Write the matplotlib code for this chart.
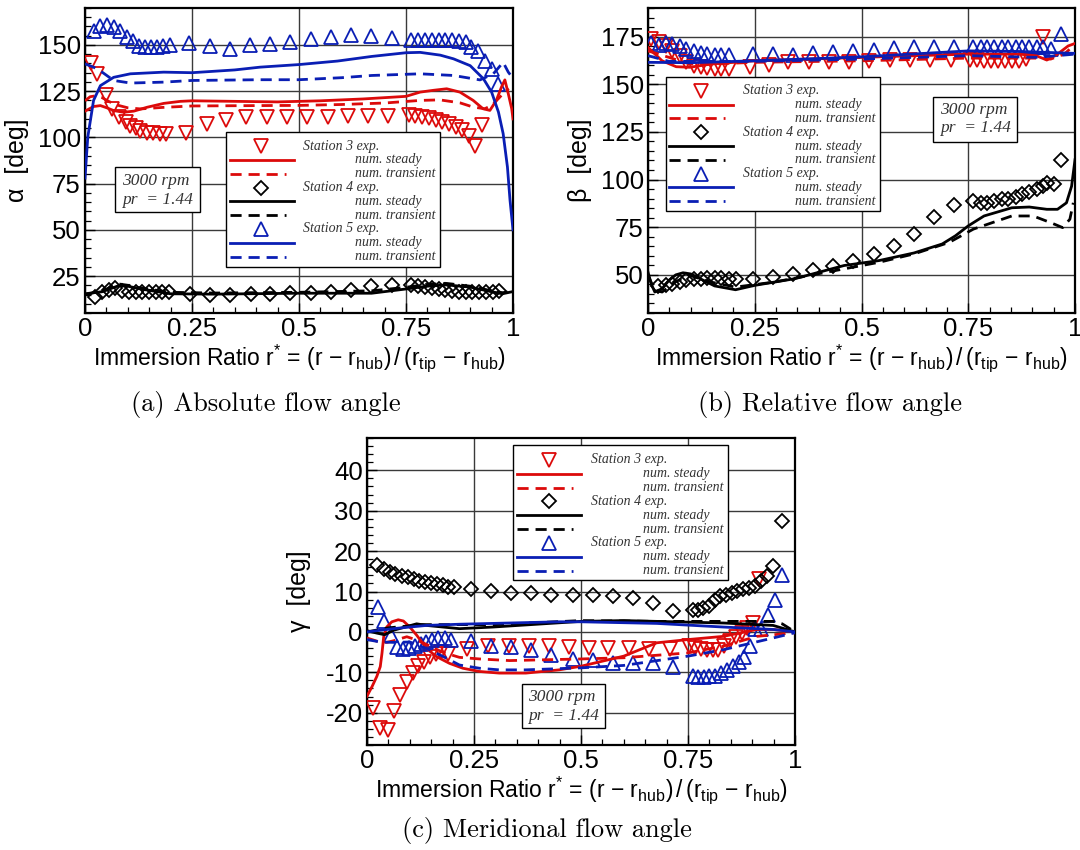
import matplotlib
matplotlib.use("Agg")
import matplotlib.pyplot as plt
from matplotlib.patches import Rectangle
from matplotlib.ticker import MultipleLocator, FixedLocator, FuncFormatter

plt.rcParams['font.family'] = ['Liberation Sans', 'DejaVu Sans']
plt.rcParams['mathtext.fontset'] = 'custom'
plt.rcParams['mathtext.rm'] = 'Liberation Sans'
plt.rcParams['mathtext.it'] = 'Liberation Sans:italic'
plt.rcParams['axes.unicode_minus'] = False

RED = '#dc0a0a'
BLUE = '#0a1eb4'
BLACK = '#000000'

# ---- (a) absolute flow angle ----
a_s3_exp_x = [0.013, 0.028, 0.048, 0.063, 0.079, 0.095, 0.106, 0.118, 0.129, 0.145, 0.160, 0.176, 0.190,
              0.235, 0.284, 0.329, 0.376, 0.425, 0.472, 0.519, 0.567, 0.614, 0.661, 0.709, 0.756,
              0.772, 0.788, 0.803, 0.819, 0.835, 0.851, 0.867, 0.882, 0.898, 0.912, 0.927]
a_s3_exp_y = [140.1, 134.4, 122.7, 115.5, 111.0, 108.3, 106.2, 105.0, 103.6, 102.5, 102.5, 102.0, 102.0,
              102.5, 107.0, 109.5, 111.0, 111.0, 111.1, 111.1, 111.1, 111.5, 111.5, 111.5, 112.0,
              111.5, 110.8, 110.3, 109.4, 108.5, 107.2, 105.8, 104.0, 100.8, 95.2, 106.8]
a_s3_st_x = [0, 0.02, 0.036, 0.051, 0.067, 0.09, 0.114, 0.145, 0.184, 0.223, 0.25, 0.35, 0.45, 0.55, 0.65,
             0.75, 0.783, 0.815, 0.845, 0.876, 0.907, 0.93, 0.946, 0.961, 0.973, 0.981, 0.989, 0.997, 1.0]
a_s3_st_y = [114.2, 116.7, 117.2, 116.0, 114.5, 113.6, 114.2, 116.3, 118.4, 119.5, 119.8, 119.5, 119.2,
             119.8, 120.8, 122.2, 124.5, 125.5, 126.3, 124.5, 120.0, 115.5, 114.6, 120.0, 127.2, 131.1,
             123.6, 115.5, 110.0]
a_s3_tr_x = [0, 0.012, 0.025, 0.04, 0.055, 0.075, 0.1, 0.13, 0.18, 0.25, 0.4, 0.5, 0.6, 0.7, 0.783,
             0.829, 0.876, 0.907, 0.934, 0.95, 0.966, 0.98, 0.99]
a_s3_tr_y = [119.8, 122.0, 122.5, 121.5, 119.5, 117.5, 116.0, 115.4, 116.2, 117.0, 117.2, 117.3, 117.8,
             118.6, 120.0, 120.3, 118.7, 116.4, 115.5, 117.3, 121.0, 124.5, 126.4]
a_s4_exp_x = [0.024, 0.039, 0.055, 0.071, 0.087, 0.102, 0.118, 0.134, 0.15, 0.165, 0.181, 0.197, 0.245,
              0.292, 0.339, 0.387, 0.433, 0.48, 0.527, 0.575, 0.622, 0.669, 0.717, 0.762, 0.778, 0.794,
              0.81, 0.826, 0.842, 0.858, 0.874, 0.89, 0.905, 0.921, 0.937, 0.953, 0.968]
a_s4_exp_y = [13.9, 16.2, 17.7, 18.4, 17.1, 16.2, 16.2, 16.2, 16.6, 16.6, 16.6, 16.2, 15.4, 15.0, 15.0,
              15.4, 15.4, 15.7, 15.7, 16.6, 17.7, 19.5, 20.4, 20.2, 19.5, 18.9, 18.4, 18.0, 17.7, 17.1,
              16.6, 16.2, 16.2, 16.2, 16.2, 16.6, 17.1]
a_s4_st_x = [0, 0.04, 0.079, 0.1, 0.13, 0.2, 0.3, 0.5, 0.67, 0.75, 0.8, 0.845, 0.9, 0.95, 0.975, 1.0]
a_s4_st_y = [15.4, 16.5, 19.8, 19.5, 18.0, 15.4, 15.2, 15.7, 15.7, 18.0, 19.5, 20.2, 19.0, 16.5, 15.4, 16.6]
a_s4_tr_x = [0, 0.04, 0.079, 0.1, 0.13, 0.2, 0.3, 0.5, 0.67, 0.75, 0.8, 0.845, 0.9, 0.95, 0.975, 1.0]
a_s4_tr_y = [15.0, 17.0, 20.7, 20.0, 18.5, 16.2, 15.8, 16.2, 17.0, 18.9, 20.5, 21.0, 19.5, 17.0, 16.0, 16.5]
a_s5_exp_x = [0.02, 0.036, 0.051, 0.067, 0.082, 0.098, 0.112, 0.127, 0.141, 0.154, 0.168, 0.182, 0.198,
              0.242, 0.291, 0.339, 0.386, 0.433, 0.48, 0.527, 0.575, 0.622, 0.669, 0.717, 0.762, 0.778,
              0.794, 0.81, 0.826, 0.842, 0.858, 0.874, 0.89, 0.903, 0.918, 0.934, 0.95, 0.966]
a_s5_exp_y = [157.7, 160.4, 161.0, 159.8, 157.3, 154.4, 151.9, 149.6, 149.1, 149.1, 149.1, 149.6, 150.2,
              150.9, 149.6, 147.8, 150.2, 150.5, 151.6, 153.0, 154.5, 155.2, 154.8, 153.8, 152.7, 152.7,
              152.7, 152.7, 152.7, 152.7, 152.5, 152.3, 151.5, 148.7, 147.0, 141.5, 137.1, 129.0]
a_s5_st_x = [0, 0.0065, 0.02, 0.036, 0.067, 0.106, 0.184, 0.25, 0.35, 0.409, 0.5, 0.59, 0.67, 0.75, 0.783,
             0.83, 0.861, 0.9, 0.931, 0.95, 0.966, 0.977, 0.987, 0.993, 1.0]
a_s5_st_y = [78.0, 100.2, 120.0, 128.0, 132.5, 134.4, 135.3, 135.0, 136.5, 138.0, 139.4, 141.3, 143.8,
             145.8, 146.0, 144.5, 142.5, 138.8, 131.7, 124.5, 113.7, 102.0, 84.0, 66.1, 50.0]
a_s5_tr_x = [0, 0.02, 0.04, 0.067, 0.106, 0.184, 0.25, 0.409, 0.5, 0.6, 0.67, 0.783, 0.861, 0.923, 0.954,
             0.977, 0.989, 1.0]
a_s5_tr_y = [139.8, 138.0, 135.3, 130.8, 129.4, 129.9, 130.8, 131.2, 131.2, 132.3, 133.5, 134.4, 133.5,
             131.1, 134.4, 140.6, 135.3, 132.0]

# ---- (b) relative flow angle ----
b_s3_exp_x = [0.008, 0.025, 0.041, 0.057, 0.074, 0.09, 0.107, 0.123, 0.139, 0.156, 0.172, 0.189, 0.238,
              0.283, 0.329, 0.377, 0.425, 0.471, 0.518, 0.566, 0.613, 0.66, 0.709, 0.754, 0.77, 0.787,
              0.803, 0.82, 0.836, 0.852, 0.869, 0.885, 0.926]
b_s3_exp_y = [173.6, 172.4, 170.1, 167.5, 165.0, 161.5, 159.7, 158.9, 158.4, 158.0, 158.0, 158.0, 158.9,
              160.3, 161.5, 161.8, 161.8, 161.8, 162.0, 162.7, 162.7, 162.9, 162.9, 162.7, 162.7, 162.3,
              162.3, 162.3, 162.3, 162.3, 162.3, 163.2, 174.8]
b_s3_st_x = [0, 0.033, 0.066, 0.098, 0.148, 0.25, 0.5, 0.75, 0.869, 0.91, 0.934, 0.959, 0.984, 1.0]
b_s3_st_y = [169.3, 162.3, 159.2, 158.9, 160.6, 162.3, 164.1, 165.8, 165.8, 164.9, 162.7, 165.8, 170.1, 171.4]
b_s3_tr_x = [0, 0.049, 0.098, 0.148, 0.25, 0.5, 0.75, 0.91, 0.943, 0.975, 1.0]
b_s3_tr_y = [167.5, 164.1, 160.6, 160.6, 161.5, 162.3, 163.7, 163.7, 163.2, 165.8, 171.0]
b_s4_exp_x = [0.023, 0.041, 0.057, 0.074, 0.09, 0.107, 0.123, 0.139, 0.156, 0.172, 0.189, 0.205, 0.246,
              0.293, 0.34, 0.387, 0.434, 0.481, 0.529, 0.575, 0.623, 0.67, 0.717, 0.762, 0.779, 0.795,
              0.811, 0.828, 0.844, 0.861, 0.877, 0.893, 0.91, 0.926, 0.934, 0.951, 0.967]
b_s4_exp_y = [44.2, 44.8, 45.4, 46.2, 47.1, 47.6, 48.0, 48.3, 48.3, 48.3, 48.0, 48.0, 47.6, 48.8, 50.6,
              52.8, 54.9, 57.5, 61.0, 65.3, 71.4, 80.5, 86.4, 88.7, 87.8, 87.5, 88.7, 89.6, 89.9, 90.9,
              92.2, 93.4, 95.1, 96.5, 98.2, 97.7, 110.0]
b_s4_st_x = [0, 0.008, 0.016, 0.033, 0.049, 0.065, 0.082, 0.1, 0.115, 0.156, 0.205, 0.25, 0.344, 0.459,
             0.541, 0.623, 0.689, 0.72, 0.75, 0.787, 0.852, 0.893, 0.934, 0.959, 0.98, 0.992, 1.0]
b_s4_st_y = [51.4, 45.0, 41.0, 42.8, 47.1, 50.0, 51.1, 50.5, 48.8, 44.2, 42.2, 44.5, 48.0, 54.9, 57.5,
             61.5, 66.2, 70.5, 75.7, 80.9, 85.2, 85.6, 84.4, 84.4, 87.8, 96.5, 110.4]
b_s4_tr_x = [0, 0.016, 0.033, 0.066, 0.098, 0.148, 0.205, 0.295, 0.418, 0.541, 0.623, 0.705, 0.762, 0.852,
             0.902, 0.943, 0.971, 0.988, 0.996]
b_s4_tr_y = [49.7, 41.9, 41.0, 46.6, 49.7, 46.2, 43.6, 46.2, 51.4, 56.6, 61.0, 67.0, 74.0, 80.9, 80.9,
             77.4, 74.8, 79.2, 87.8]
b_s5_exp_x = [0.008, 0.025, 0.041, 0.057, 0.074, 0.09, 0.107, 0.123, 0.139, 0.156, 0.172, 0.189, 0.246,
              0.293, 0.34, 0.387, 0.434, 0.481, 0.529, 0.575, 0.623, 0.67, 0.717, 0.762, 0.779, 0.795,
              0.811, 0.828, 0.844, 0.861, 0.877, 0.893, 0.91, 0.926, 0.943, 0.967]
b_s5_exp_y = [171.4, 170.5, 171.5, 171.0, 170.1, 168.4, 167.2, 166.3, 165.8, 165.5, 165.5, 165.5, 165.8,
              165.8, 165.5, 166.2, 166.7, 167.2, 167.9, 168.9, 169.3, 169.3, 169.3, 169.3, 169.3, 169.3,
              169.3, 169.3, 169.3, 169.3, 169.3, 169.3, 169.3, 169.3, 168.4, 176.2]
b_s5_st_x = [0, 0.1, 0.25, 0.4, 0.5, 0.6, 0.75, 0.869, 1.0]
b_s5_st_y = [161.5, 161.3, 162.3, 163.5, 164.4, 165.6, 167.5, 167.2, 166.2]
b_s5_tr_x = [0, 0.049, 0.25, 0.5, 0.75, 0.91, 1.0]
b_s5_tr_y = [165.0, 162.0, 162.0, 163.2, 165.0, 164.1, 165.8]

# ---- (c) meridional flow angle ----
c_s3_exp_x = [0.014, 0.031, 0.048, 0.062, 0.077, 0.093, 0.107, 0.12, 0.134, 0.147, 0.161, 0.174, 0.19,
              0.234, 0.282, 0.331, 0.379, 0.425, 0.471, 0.518, 0.564, 0.611, 0.66, 0.707, 0.753, 0.766,
              0.78, 0.794, 0.808, 0.821, 0.834, 0.848, 0.862, 0.875, 0.889, 0.903, 0.917]
c_s3_exp_y = [-18.8, -23.7, -24.3, -19.6, -15.5, -12.5, -10.2, -8.4, -7.4, -6.1, -5.5, -5.1, -5.5, -4.3,
              -3.5, -3.5, -3.5, -3.5, -3.8, -4.0, -4.0, -4.0, -4.2, -4.2, -3.5, -4.0, -4.2, -4.6, -4.6,
              -4.4, -3.5, -2.3, -1.2, -0.2, 1.0, 2.1, 13.1]
c_s3_st_x = [0, 0.012, 0.023, 0.031, 0.035, 0.039, 0.046, 0.058, 0.073, 0.085, 0.1, 0.116, 0.139, 0.162,
             0.193, 0.224, 0.263, 0.309, 0.371, 0.449, 0.5, 0.6, 0.677, 0.75, 0.833, 0.911, 0.949, 1.0]
c_s3_st_y = [-15.9, -13.5, -11.0, -8.6, -5.3, -1.2, 1.2, 2.5, 3.0, 2.7, 1.2, -0.8, -4.1, -6.1, -7.8,
             -9.0, -9.8, -10.2, -10.2, -9.4, -8.5, -6.0, -2.7, -1.9, -1.1, 0.6, 0.6, 0.0]
c_s3_tr_x = [0, 0.023, 0.046, 0.062, 0.093, 0.116, 0.139, 0.178, 0.216, 0.263, 0.333, 0.5, 0.6, 0.75,
             0.833, 0.911, 1.0]
c_s3_tr_y = [-1.5, -2.3, -2.6, -2.2, -1.2, -2.0, -3.1, -5.1, -6.3, -6.7, -7.1, -6.7, -6.4, -5.2, -3.5,
             -1.1, -0.2]
c_s4_exp_x = [0.024, 0.039, 0.053, 0.066, 0.081, 0.095, 0.109, 0.122, 0.136, 0.149, 0.163, 0.177, 0.19,
              0.204, 0.244, 0.29, 0.336, 0.383, 0.429, 0.481, 0.528, 0.574, 0.621, 0.669, 0.716, 0.761,
              0.774, 0.786, 0.8, 0.813, 0.825, 0.839, 0.852, 0.865, 0.879, 0.893, 0.907, 0.92, 0.934,
              0.949, 0.969]
c_s4_exp_y = [16.6, 15.5, 14.9, 14.3, 13.9, 13.5, 13.1, 12.7, 12.4, 12.0, 11.8, 11.6, 11.2, 11.2, 10.6,
              10.2, 9.6, 9.6, 9.2, 9.2, 9.2, 9.0, 8.4, 7.2, 5.1, 5.5, 5.5, 5.9, 6.3, 8.0, 8.8, 9.2, 9.6,
              10.1, 10.5, 10.9, 11.3, 12.5, 13.8, 16.4, 27.4]
c_s4_st_x = [0, 0.023, 0.041, 0.062, 0.116, 0.139, 0.216, 0.294, 0.5, 0.6, 0.833, 0.949, 1.0]
c_s4_st_y = [0.3, -0.3, -0.7, 0.4, 2.0, 1.6, 0.8, 1.2, 2.6, 2.8, 2.2, 1.6, 0.0]
c_s4_tr_x = [0, 0.05, 0.13, 0.3, 0.5, 0.677, 0.833, 0.949, 0.97, 1.0]
c_s4_tr_y = [0.0, 1.0, 1.8, 1.8, 2.8, 2.6, 2.6, 2.6, 2.0, 0.0]
c_s5_exp_x = [0.025, 0.04, 0.056, 0.071, 0.083, 0.099, 0.112, 0.125, 0.139, 0.153, 0.166, 0.182, 0.197,
              0.243, 0.29, 0.336, 0.383, 0.429, 0.481, 0.528, 0.574, 0.621, 0.669, 0.716, 0.761, 0.774,
              0.787, 0.8, 0.813, 0.826, 0.84, 0.854, 0.868, 0.881, 0.895, 0.907, 0.92, 0.936, 0.953, 0.969]
c_s5_exp_y = [6.1, 2.6, -0.8, -3.8, -4.3, -4.1, -3.5, -3.0, -2.4, -1.9, -1.6, -1.6, -1.9, -2.2, -3.5,
              -3.8, -4.6, -5.6, -6.7, -7.0, -7.8, -7.8, -7.8, -8.7, -10.8, -11.1, -11.1, -11.0, -10.8,
              -10.1, -9.5, -8.5, -7.5, -6.2, -3.5, 0.7, 0.6, 4.3, 8.0, 14.2]
c_s5_st_x = [0, 0.061, 0.139, 0.216, 0.294, 0.449, 0.5, 0.677, 0.833, 0.949, 1.0]
c_s5_st_y = [0.0, 0.8, 1.6, 1.9, 2.1, 2.5, 2.5, 2.1, 1.2, 0.6, 0.0]
c_s5_tr_x = [0, 0.031, 0.062, 0.1, 0.139, 0.178, 0.216, 0.263, 0.309, 0.371, 0.5, 0.6, 0.75, 0.833,
             0.949, 1.0]
c_s5_tr_y = [-1.9, -2.5, -2.6, -2.5, -4.1, -6.1, -8.2, -9.0, -9.4, -9.4, -8.9, -8.3, -6.0, -4.4, -1.5, -0.2]

x_ticks = [0, 0.25, 0.5, 0.75, 1]
x_tick_labels = ['0', '0.25', '0.5', '0.75', '1']
key_labels = ['Station 3 exp.', 'num. steady', 'num. transient',
              'Station 4 exp.', 'num. steady', 'num. transient',
              'Station 5 exp.', 'num. steady', 'num. transient']
note_lines = ['3000 rpm', 'pr  = 1.44']

XLABEL = r'Immersion Ratio r$^{*}$ = (r $-$ r$_{\mathrm{hub}}$)$\,/\,$(r$_{\mathrm{tip}}$ $-$ r$_{\mathrm{hub}}$)'
DASH = (4, 2.5)
LW = 2.0
MS_TRI = 10
MS_DIA = 7.5
MEW = 1.3

W, H = 1080, 850
fig = plt.figure(figsize=(W / 100, H / 100), dpi=100)


def px_axes(left, top, right, bottom):
    return fig.add_axes([left / W, 1 - bottom / H, (right - left) / W, (bottom - top) / H])


def style_axes(ax, ylim, ymajor, yminor, ylabel):
    ax.set_xlim(0, 1)
    ax.set_ylim(*ylim)
    ax.xaxis.set_major_locator(FixedLocator(x_ticks))
    ax.set_xticklabels(x_tick_labels)
    ax.xaxis.set_minor_locator(MultipleLocator(0.05))
    ax.yaxis.set_major_locator(MultipleLocator(ymajor))
    ax.yaxis.set_minor_locator(MultipleLocator(yminor))
    ax.yaxis.set_major_formatter(FuncFormatter(lambda v, p: '%d' % round(v)))
    ax.tick_params(which='both', direction='in', top=False, right=False, labelsize=18.5)
    ax.tick_params(which='major', length=7, width=1.0, pad=3)
    ax.tick_params(which='minor', length=4, width=0.9)
    ax.grid(True, which='major', color='#3a3a3a', lw=1.0)
    ax.set_axisbelow(True)
    for s in ax.spines.values():
        s.set_linewidth(1.6)
    ax.set_xlabel(XLABEL, fontsize=16.5)
    ax.xaxis.set_label_coords(0.5, -0.097)
    ax.set_ylabel(ylabel, fontsize=18)
    ax.yaxis.set_label_coords(-0.13, 0.5)


def draw_panel(ax, s3, s4, s5):
    for (ex, ey, sx, sy, tx, ty), col, mk, ms in ((s3, RED, 'v', MS_TRI), (s4, BLACK, 'D', MS_DIA),
                                                  (s5, BLUE, '^', MS_TRI)):
        ax.plot(ex, ey, ls='none', marker=mk, ms=ms, mfc='none', mec=col, mew=MEW, zorder=3)
        ax.plot(sx, sy, color=col, lw=LW, zorder=4)
        ax.plot(tx, ty, color=col, lw=LW, dashes=DASH, zorder=4)


def draw_key(ax, box, row_top, row_bot, hx0, hx1, hmark, tx_station, tx_num):
    x0, y0, x1, y1 = box
    ax.add_patch(Rectangle((x0, y0), x1 - x0, y1 - y0, transform=ax.transAxes, facecolor='white',
                           edgecolor='black', lw=1.0, zorder=6))
    step = (row_top - row_bot) / 8
    styles = [(RED, 'v', MS_TRI), (BLACK, 'D', MS_DIA), (BLUE, '^', MS_TRI)]
    for i, lab in enumerate(key_labels):
        fy = row_top - i * step
        col, mk, ms = styles[i // 3]
        kind = i % 3
        if kind == 0:
            ax.plot([hmark], [fy], transform=ax.transAxes, ls='none', marker=mk, ms=ms, mfc='none',
                    mec=col, mew=MEW, zorder=7, clip_on=False)
        elif kind == 1:
            ax.plot([hx0, hx1], [fy, fy], transform=ax.transAxes, color=col, lw=LW, zorder=7)
        else:
            ax.plot([hx0, hx0 + (hx1 - hx0) * 0.88], [fy, fy], transform=ax.transAxes, color=col,
                    lw=LW, dashes=DASH, zorder=7)
        tx = tx_station if kind == 0 else tx_num
        ax.text(tx, fy, lab, transform=ax.transAxes, ha='left', va='center', fontsize=10,
                family='Liberation Serif', style='italic', color='#333333', zorder=8)


def draw_note(ax, box, tx, ty1, ty2):
    x0, y0, x1, y1 = box
    ax.add_patch(Rectangle((x0, y0), x1 - x0, y1 - y0, transform=ax.transAxes, facecolor='white',
                           edgecolor='black', lw=1.0, zorder=6))
    for ty, line in zip((ty1, ty2), note_lines):
        ax.text(tx, ty, line, transform=ax.transAxes, ha='left', va='center', fontsize=12.5,
                family='Liberation Serif', style='italic', color='#333333', zorder=8)


ax_a = px_axes(85, 8, 513, 313)
ax_b = px_axes(648, 8, 1075, 313)
ax_c = px_axes(367, 438, 795, 745)

style_axes(ax_a, (5, 170), 25, 5, '\u03b1  [deg]')
style_axes(ax_b, (30, 190), 25, 5, '\u03b2  [deg]')
style_axes(ax_c, (-28, 48), 10, 2, '\u03b3  [deg]')

draw_panel(ax_a,
           (a_s3_exp_x, a_s3_exp_y, a_s3_st_x, a_s3_st_y, a_s3_tr_x, a_s3_tr_y),
           (a_s4_exp_x, a_s4_exp_y, a_s4_st_x, a_s4_st_y, a_s4_tr_x, a_s4_tr_y),
           (a_s5_exp_x, a_s5_exp_y, a_s5_st_x, a_s5_st_y, a_s5_tr_x, a_s5_tr_y))
draw_panel(ax_b,
           (b_s3_exp_x, b_s3_exp_y, b_s3_st_x, b_s3_st_y, b_s3_tr_x, b_s3_tr_y),
           (b_s4_exp_x, b_s4_exp_y, b_s4_st_x, b_s4_st_y, b_s4_tr_x, b_s4_tr_y),
           (b_s5_exp_x, b_s5_exp_y, b_s5_st_x, b_s5_st_y, b_s5_tr_x, b_s5_tr_y))
draw_panel(ax_c,
           (c_s3_exp_x, c_s3_exp_y, c_s3_st_x, c_s3_st_y, c_s3_tr_x, c_s3_tr_y),
           (c_s4_exp_x, c_s4_exp_y, c_s4_st_x, c_s4_st_y, c_s4_tr_x, c_s4_tr_y),
           (c_s5_exp_x, c_s5_exp_y, c_s5_st_x, c_s5_st_y, c_s5_tr_x, c_s5_tr_y))

draw_key(ax_a, (0.329, 0.152, 0.83, 0.595), 0.547, 0.185, 0.338, 0.488, 0.412, 0.509, 0.631)
draw_key(ax_b, (0.041, 0.335, 0.543, 0.774), 0.728, 0.367, 0.049, 0.198, 0.123, 0.223, 0.344)
draw_key(ax_c, (0.342, 0.538, 0.843, 0.978), 0.929, 0.568, 0.350, 0.500, 0.426, 0.524, 0.646)

draw_note(ax_a, (0.069, 0.330, 0.268, 0.478), 0.087, 0.432, 0.372)
draw_note(ax_b, (0.668, 0.562, 0.865, 0.709), 0.684, 0.665, 0.605)
draw_note(ax_c, (0.362, 0.054, 0.556, 0.199), 0.377, 0.155, 0.095)

cap_kw = dict(ha='center', va='center', fontsize=19, family='cmr10')
fig.text(266 / W, 1 - 404 / H, '(a) Absolute flow angle', **cap_kw)
fig.text(830 / W, 1 - 404 / H, '(b) Relative flow angle', **cap_kw)
fig.text(547 / W, 1 - 831 / H, '(c) Meridional flow angle', **cap_kw)

fig.savefig('out.png', dpi=100, facecolor='white')
